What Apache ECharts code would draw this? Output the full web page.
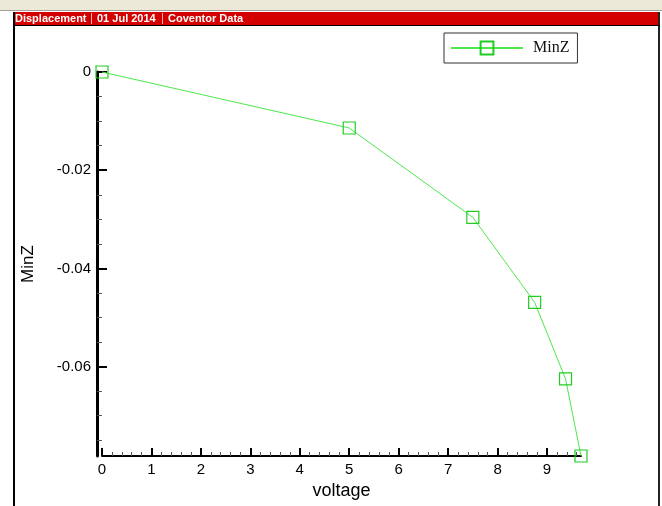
<!DOCTYPE html>
<html>
<head>
<meta charset="utf-8">
<script src="https://cdn.jsdelivr.net/npm/echarts@6/dist/echarts.min.js"></script>
<style>
html,body{margin:0;padding:0;background:#fff;}
#chart{width:662px;height:506px;}
</style>
</head>
<body>
<div id="chart"></div>
<script>
// Data
var voltage = [0, 5, 7.5, 8.75, 9.375, 9.6875];
var minZ = [0, -0.0114, -0.0296, -0.0469, -0.0625, -0.0782];
var xTickLabels = [0, 1, 2, 3, 4, 5, 6, 7, 8, 9];
var yTickLabels = [0, -0.02, -0.04, -0.06];
var headerTexts = ['Displacement', '01 Jul 2014', 'Coventor Data'];
var seriesName = 'MinZ';
var xName = 'voltage';
var yName = 'MinZ';

var xMin = 0, xMax = voltage[voltage.length - 1];
var yMin = minZ[minZ.length - 1], yMax = 0;

var xMinor = [];
for (var i = 0; i <= 48; i++) { var v = +(i * 0.2).toFixed(2); if (v <= xMax && xTickLabels.indexOf(v) < 0) xMinor.push(v); }
var yMinor = [];
for (var j = 0; j <= 15; j++) { var w = +(-j * 0.005).toFixed(3); if (w >= yMin && yTickLabels.indexOf(w) < 0) yMinor.push(w); }

var chart = echarts.init(document.getElementById('chart'), null, {renderer: 'canvas'});
var font = "'Liberation Sans', Arial, sans-serif";

var pts = voltage.map(function (x, k) { return [x, minZ[k]]; });

var option = {
  animation: false,
  backgroundColor: '#ffffff',
  grid: {left: 102, right: 81, top: 72, bottom: 50, containLabel: false},
  legend: {
    show: true,
    left: 444, top: 33,
    width: 134,
    padding: [7, 8, 7, 6],
    borderColor: '#333',
    borderWidth: 1,
    itemWidth: 72, itemHeight: 16,
    itemGap: 10,
    textStyle: {fontFamily: "'Liberation Serif', 'Times New Roman', serif", fontSize: 16, color: '#111', padding: [0, 0, 0, 5]},
    data: [seriesName]
  },
  xAxis: [{
    type: 'value', min: xMin, max: xMax, position: 'bottom',
    name: xName, nameLocation: 'middle', nameGap: 24,
    nameTextStyle: {fontFamily: font, fontSize: 18, color: '#000'},
    axisLine: {show: true, onZero: false, lineStyle: {color: '#000', width: 2}},
    axisTick: {show: true, inside: true, length: 8, customValues: xTickLabels, lineStyle: {color: '#000', width: 2}},
    axisLabel: {show: true, customValues: xTickLabels, fontFamily: font, fontSize: 15, color: '#000', margin: 6},
    splitLine: {show: false}
  }, {
    type: 'value', min: xMin, max: xMax, position: 'bottom',
    axisLine: {show: false, onZero: false},
    axisTick: {show: true, inside: true, length: 4, customValues: xMinor, lineStyle: {color: '#555', width: 1}},
    axisLabel: {show: false},
    splitLine: {show: false}
  }],
  yAxis: [{
    type: 'value', min: yMin, max: yMax, position: 'left', offset: 5,
    name: yName, nameLocation: 'middle', nameGap: 60, nameRotate: 90,
    nameTextStyle: {fontFamily: font, fontSize: 17, color: '#000'},
    axisLine: {show: true, onZero: false, lineStyle: {color: '#000', width: 3}},
    axisTick: {show: true, inside: true, length: 10, customValues: yTickLabels, lineStyle: {color: '#000', width: 2}},
    axisLabel: {show: true, customValues: yTickLabels, fontFamily: font, fontSize: 15, color: '#000', margin: 6,
      formatter: function (v) { return v === 0 ? '0' : String(+v.toFixed(2)); }},
    splitLine: {show: false}
  }, {
    type: 'value', min: yMin, max: yMax, position: 'left', offset: 5,
    axisLine: {show: false, onZero: false},
    axisTick: {show: true, inside: true, length: 5, customValues: yMinor, lineStyle: {color: '#555', width: 1}},
    axisLabel: {show: false},
    splitLine: {show: false}
  }],
  series: [{
    name: seriesName,
    type: 'line',
    xAxisIndex: 0, yAxisIndex: 0,
    data: pts,
    symbol: 'rect',
    symbolSize: 12,
    showAllSymbol: true,
    clip: false,
    lineStyle: {color: '#4de84d', width: 1},
    itemStyle: {color: 'rgba(255,255,255,0)', borderColor: '#22cc22', borderWidth: 1.2},
    emphasis: {disabled: true},
    z: 5
  }],
  graphic: [
    {type: 'rect', left: 0, top: 0, shape: {width: 662, height: 11}, style: {fill: '#ece9d8'}, silent: true},
    {type: 'rect', left: 0, top: 10, shape: {width: 662, height: 1}, style: {fill: '#a0a0a0'}, silent: true},
    {type: 'rect', left: 13, top: 12, shape: {width: 647, height: 13}, style: {fill: '#d40000'}, silent: true},
    {type: 'rect', left: 13, top: 12, shape: {width: 2, height: 494}, style: {fill: '#000'}, silent: true},
    {type: 'rect', left: 658, top: 12, shape: {width: 2, height: 494}, style: {fill: '#222'}, silent: true},
    {type: 'rect', left: 13, top: 25, shape: {width: 647, height: 1}, style: {fill: '#000'}, silent: true},
    {type: 'text', left: 15, top: 13, style: {text: headerTexts[0], fill: '#fff', font: "bold 11px 'Liberation Sans', Arial, sans-serif"}, silent: true},
    {type: 'rect', left: 91, top: 13, shape: {width: 1, height: 11}, style: {fill: '#f2b0b0'}, silent: true},
    {type: 'text', left: 97, top: 13, style: {text: headerTexts[1], fill: '#fff', font: "bold 11px 'Liberation Sans', Arial, sans-serif"}, silent: true},
    {type: 'rect', left: 162, top: 13, shape: {width: 1, height: 11}, style: {fill: '#f2b0b0'}, silent: true},
    {type: 'text', left: 168, top: 13, style: {text: headerTexts[2], fill: '#fff', font: "bold 11px 'Liberation Sans', Arial, sans-serif"}, silent: true}
  ]
};
chart.setOption(option);
</script>
</body>
</html>
